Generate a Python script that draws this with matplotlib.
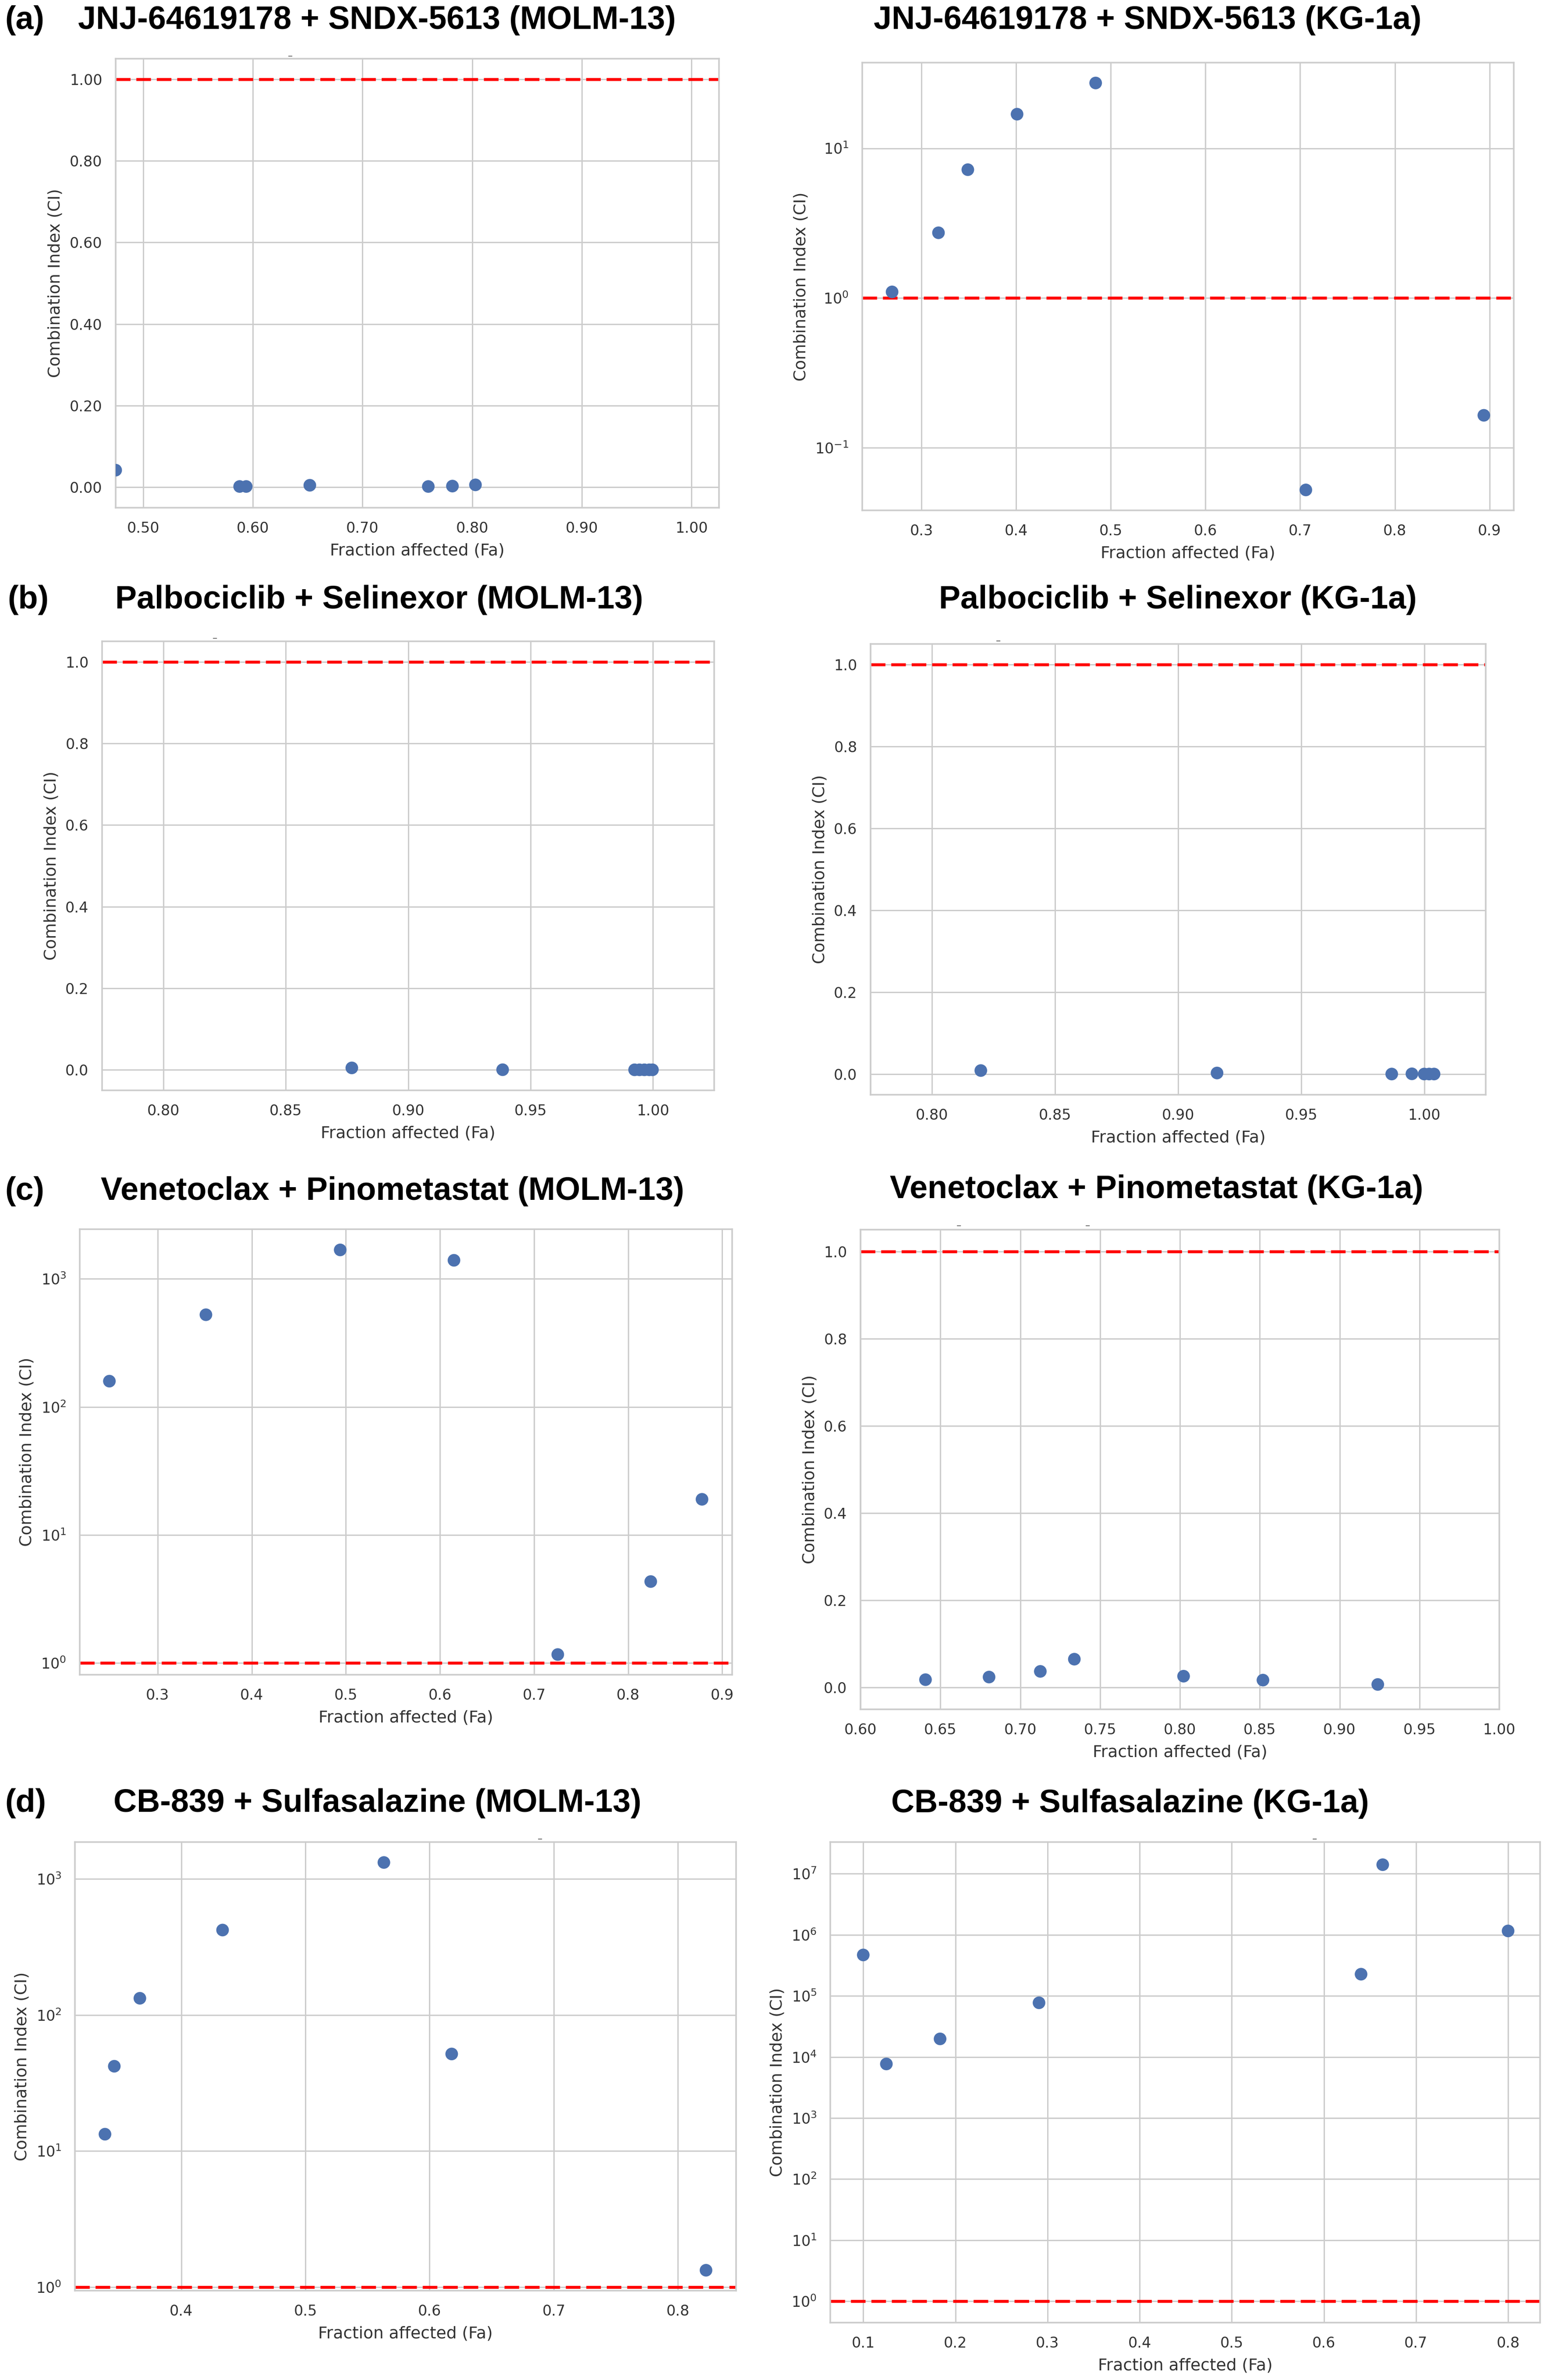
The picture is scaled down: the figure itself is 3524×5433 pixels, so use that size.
import matplotlib
matplotlib.use("Agg")
import matplotlib.pyplot as plt
from matplotlib.ticker import FormatStrFormatter, LogLocator, NullLocator, MultipleLocator

W, H, DPI = 3524, 5433, 100

# ---- data (Fa = fraction affected, CI = combination index) ----
# (a) JNJ-64619178 + SNDX-5613
jnj_molm13_fa = [0.475, 0.588, 0.594, 0.652, 0.760, 0.782, 0.803]
jnj_molm13_ci = [0.042, 0.002, 0.002, 0.005, 0.002, 0.003, 0.006]
jnj_kg1a_fa = [0.269, 0.318, 0.349, 0.401, 0.484, 0.706, 0.894]
jnj_kg1a_ci = [1.10, 2.73, 7.2, 16.9, 27.3, 0.0524, 0.165]

# (b) Palbociclib + Selinexor
palbo_molm13_fa = [0.877, 0.9386, 0.9925, 0.9945, 0.9965, 0.9985, 0.9998]
palbo_molm13_ci = [0.005, 0.0005, 0.0003, 0.0003, 0.0003, 0.0003, 0.0003]
palbo_kg1a_fa = [0.8198, 0.9158, 0.9868, 0.995, 1.000, 1.002, 1.004]
palbo_kg1a_ci = [0.009, 0.003, 0.0005, 0.001, 0.0005, 0.0005, 0.0005]

# (c) Venetoclax + Pinometastat
veno_molm13_fa = [0.2487, 0.3513, 0.494, 0.6149, 0.7252, 0.824, 0.8785]
veno_molm13_ci = [159, 525, 1684, 1397, 1.166, 4.33, 19.0]
veno_kg1a_fa = [0.6407, 0.6805, 0.7126, 0.7339, 0.8023, 0.852, 0.9239]
veno_kg1a_ci = [0.018, 0.024, 0.037, 0.065, 0.026, 0.017, 0.007]

# (d) CB-839 + Sulfasalazine
cb_molm13_fa = [0.3386, 0.3461, 0.3667, 0.4333, 0.5632, 0.6178, 0.8226]
cb_molm13_ci = [13.3, 42.0, 132.7, 421, 1321, 51.7, 1.33]
cb_kg1a_fa = [0.100, 0.1251, 0.1834, 0.2908, 0.6404, 0.6639, 0.800]
cb_kg1a_ci = [4.69e5, 7.69e3, 1.98e4, 7.72e4, 2.27e5, 1.41e7, 1.16e6]

titles = [
    "JNJ-64619178 + SNDX-5613 (MOLM-13)", "JNJ-64619178 + SNDX-5613 (KG-1a)",
    "Palbociclib + Selinexor (MOLM-13)", "Palbociclib + Selinexor (KG-1a)",
    "Venetoclax + Pinometastat (MOLM-13)", "Venetoclax + Pinometastat (KG-1a)",
    "CB-839 + Sulfasalazine (MOLM-13)", "CB-839 + Sulfasalazine (KG-1a)",
]
panel_letters = ["(a)", "(b)", "(c)", "(d)"]
series = [
    (jnj_molm13_fa, jnj_molm13_ci), (jnj_kg1a_fa, jnj_kg1a_ci),
    (palbo_molm13_fa, palbo_molm13_ci), (palbo_kg1a_fa, palbo_kg1a_ci),
    (veno_molm13_fa, veno_molm13_ci), (veno_kg1a_fa, veno_kg1a_ci),
    (cb_molm13_fa, cb_molm13_ci), (cb_kg1a_fa, cb_kg1a_ci),
]

# ---- layout (pixel boxes: x0, x1, y_top, y_bottom) and axis setup ----
boxes = [
    (264, 1641, 134, 1159), (1968, 3455, 143, 1165),
    (233, 1630, 1464, 2489), (1987, 3391, 1470, 2499),
    (182, 1671, 2806, 3823), (1964, 3422, 2807, 3902),
    (171, 1680, 4205, 5229), (1895, 3515, 4205, 5302),
]
# (log?, xlim, ylim, xstep, xfmt, yfmt)
axis_cfg = [
    (False, (0.475, 1.025), (-0.05, 1.05), 0.10, "%.2f", "%.2f"),
    (True, (0.2375, 0.9256), (10 ** -1.417, 10 ** 1.572), 0.10, "%.1f", None),
    (False, (0.775, 1.025), (-0.05, 1.05), 0.05, "%.2f", "%.1f"),
    (False, (0.775, 1.025), (-0.05, 1.05), 0.05, "%.2f", "%.1f"),
    (True, (0.2172, 0.9105), (10 ** -0.091, 10 ** 3.388), 0.10, "%.1f", None),
    (False, (0.60, 1.00), (-0.05, 1.05), 0.05, "%.2f", "%.1f"),
    (True, (0.3144, 0.8468), (10 ** -0.026, 10 ** 3.271), 0.10, "%.1f", None),
    (True, (0.0642, 0.8347), (10 ** -0.35, 10 ** 7.52), 0.10, "%.1f", None),
]
title_pos = [  # (center x, baseline y) in pixels
    (860, 66), (2619, 66), (865, 1389), (2688, 1389),
    (896, 2739), (2640, 2735), (861, 4136), (2579, 4137),
]
letter_pos = [(11, 66), (17, 1389), (11, 2739), (11, 4136)]
# tiny stray dashes above some panels in the original figure
stray_marks = [(663, 128), (491, 1457), (2279, 1463), (2189, 2798),
               (2483, 2798), (1233, 4198), (3000, 4198)]

plt.rcParams["font.family"] = ["DejaVu Sans"]
plt.rcParams["mathtext.fontset"] = "dejavusans"

fig = plt.figure(figsize=(W / DPI, H / DPI), dpi=DPI)
fig.patch.set_facecolor("white")

grid_col = "#cccccc"
text_col = "#333333"
dot_col = "#4C72B0"
title_font = ["Liberation Sans", "DejaVu Sans"]

for i, ((fa, ci), box, cfg) in enumerate(zip(series, boxes, axis_cfg)):
    x0, x1, yt, yb = box
    ax = fig.add_axes([x0 / W, 1 - yb / H, (x1 - x0) / W, (yb - yt) / H])
    is_log, xlim, ylim, xstep, xfmt, yfmt = cfg

    ax.axhline(1.0, color="red", lw=4.8, linestyle=(0, (5.0, 2.0)), zorder=2)
    ax.scatter(fa, ci, s=430, color=dot_col, edgecolor="none", zorder=3)

    if is_log:
        ax.set_yscale("log")
        ax.yaxis.set_major_locator(LogLocator(base=10, numticks=20))
        ax.yaxis.set_minor_locator(NullLocator())
    else:
        ax.yaxis.set_major_locator(MultipleLocator(0.2))
        ax.yaxis.set_major_formatter(FormatStrFormatter(yfmt))
    ax.xaxis.set_major_locator(MultipleLocator(xstep))
    ax.xaxis.set_major_formatter(FormatStrFormatter(xfmt))
    ax.set_xlim(*xlim)
    ax.set_ylim(*ylim)

    ax.grid(True, color=grid_col, lw=2.2)
    ax.set_axisbelow(True)
    for sp in ax.spines.values():
        sp.set_color(grid_col)
        sp.set_linewidth(2.6)
    ax.tick_params(length=0, pad=22, labelsize=24, labelcolor=text_col)

    ax.set_xlabel("Fraction affected (Fa)", fontsize=27, color=text_col, labelpad=12)
    ax.set_ylabel("Combination Index (CI)", fontsize=27, color=text_col, labelpad=10)

    tx, ty = title_pos[i]
    fig.text(tx / W, 1 - ty / H, titles[i], ha="center", va="baseline",
             fontsize=53, fontweight="bold", family=title_font, color="black")

for letter, (lx, ly) in zip(panel_letters, letter_pos):
    fig.text(lx / W, 1 - ly / H, letter, ha="left", va="baseline",
             fontsize=53, fontweight="bold", family=title_font, color="black")

for mx, my in stray_marks:
    fig.text(mx / W, 1 - my / H, "\u2013", ha="center", va="center",
             fontsize=16, color="#555555")

fig.savefig("out.png", dpi=DPI, facecolor="white")
